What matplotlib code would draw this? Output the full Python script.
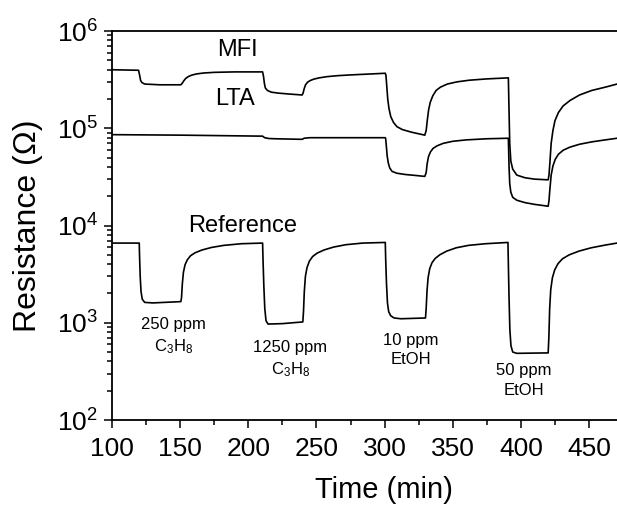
import matplotlib
matplotlib.use("Agg")
import matplotlib.pyplot as plt
from matplotlib.ticker import LogLocator, MultipleLocator, NullFormatter

plt.rcParams['font.family'] = ['Liberation Sans', 'DejaVu Sans']
plt.rcParams['mathtext.fontset'] = 'custom'
plt.rcParams['mathtext.rm'] = 'Liberation Sans'
plt.rcParams['mathtext.it'] = 'Liberation Sans'

# MFI sensor, time (min) / resistance (ohm)
mfi_t = [100, 119.5, 120.3, 121, 122, 124, 135, 150.5,
         151.5, 152.5, 154, 156, 158.5, 162, 167, 175, 190, 210.5,
         211.2, 211.8, 212.5, 214, 217, 222, 230, 239.5,
         240.2, 241, 242, 243.5, 245.5, 248, 252, 258, 266, 277, 290, 300.5,
         301, 301.6, 302.3, 303.2, 304.5, 306.5, 309, 313, 320, 329.5,
         330.5, 331.3, 332.3, 333.5, 335.3, 337.8, 341, 346, 353, 362, 375, 390.8,
         391.3, 391.8, 392.6, 394, 397, 403, 410, 420,
         420.6, 421.3, 422.2, 423.5, 425, 427.5, 431, 436, 443, 452, 462, 470.5]
mfi_r = [4.0e5, 3.95e5, 3.5e5, 3.1e5, 2.95e5, 2.85e5, 2.8e5, 2.8e5,
         2.9e5, 3.05e5, 3.25e5, 3.4e5, 3.52e5, 3.62e5, 3.7e5, 3.76e5, 3.8e5, 3.8e5,
         3.4e5, 2.9e5, 2.6e5, 2.45e5, 2.35e5, 2.3e5, 2.25e5, 2.2e5,
         2.3e5, 2.55e5, 2.8e5, 2.98e5, 3.1e5, 3.2e5, 3.3e5, 3.4e5, 3.48e5, 3.55e5, 3.62e5, 3.68e5,
         3.5e5, 2.7e5, 2.0e5, 1.6e5, 1.32e5, 1.15e5, 1.04e5, 9.7e4, 9.1e4, 8.5e4,
         9.5e4, 1.2e5, 1.55e5, 1.85e5, 2.15e5, 2.45e5, 2.65e5, 2.85e5, 3.0e5, 3.12e5, 3.22e5, 3.3e5,
         1.5e5, 7.0e4, 4.6e4, 3.8e4, 3.3e4, 3.1e4, 3.0e4, 2.95e4,
         3.3e4, 4.5e4, 7.0e4, 9.5e4, 1.2e5, 1.45e5, 1.7e5, 1.93e5, 2.2e5, 2.45e5, 2.65e5, 2.85e5]

# LTA sensor
lta_t = [100, 150, 180, 210.5, 212, 215, 220, 239.5, 241, 245, 270, 300.5,
         300.8, 301.3, 301.9, 302.7, 303.8, 305.5, 309, 315, 322, 329.5,
         330.5, 331.2, 332.2, 333.6, 335.5, 338.5, 343, 350, 360, 375, 390.8,
         391.3, 391.8, 392.6, 394, 397, 403, 410, 420,
         420.6, 421.3, 422.2, 423.5, 425.2, 427.5, 431, 436, 443, 452, 462, 470.5]
lta_r = [8.6e4, 8.5e4, 8.4e4, 8.3e4, 8.0e4, 7.85e4, 7.8e4, 7.7e4, 7.9e4, 8.0e4, 8.0e4, 8.0e4,
         7.8e4, 6.5e4, 5.2e4, 4.4e4, 3.9e4, 3.6e4, 3.45e4, 3.35e4, 3.28e4, 3.2e4,
         3.5e4, 4.3e4, 5.1e4, 5.7e4, 6.2e4, 6.6e4, 7.0e4, 7.35e4, 7.6e4, 7.8e4, 7.9e4,
         4.0e4, 2.7e4, 2.2e4, 1.95e4, 1.82e4, 1.72e4, 1.65e4, 1.58e4,
         1.8e4, 2.4e4, 3.3e4, 4.1e4, 4.8e4, 5.4e4, 5.95e4, 6.4e4, 6.85e4, 7.25e4, 7.6e4, 7.9e4]

# Reference sensor
ref_t = [100, 120, 120.2, 120.7, 121.3, 122.2, 124, 130, 150.5,
         151, 151.6, 152.4, 153.6, 155.3, 157.7, 161, 166, 173, 182, 195, 210.5,
         210.8, 211.4, 212.1, 213, 214.5, 225, 240,
         240.5, 241.1, 241.9, 243.1, 244.8, 247.2, 250.5, 255.5, 262.5, 271.5, 284, 300.5,
         300.8, 301.4, 302.1, 303, 304.5, 307, 312, 330,
         330.5, 331.1, 331.9, 333.1, 334.8, 337.2, 340.5, 345.5, 352.5, 361.5, 374, 390.5,
         390.8, 391.3, 391.9, 392.7, 394, 397, 420,
         420.5, 421.1, 421.9, 423.1, 424.8, 427.2, 430.5, 435.5, 442.5, 451.5, 462, 470.5]
ref_r = [6.6e3, 6.6e3, 5.0e3, 3.0e3, 2.1e3, 1.75e3, 1.62e3, 1.6e3, 1.65e3,
         1.8e3, 2.5e3, 3.3e3, 3.95e3, 4.45e3, 4.9e3, 5.25e3, 5.6e3, 5.95e3, 6.25e3, 6.5e3, 6.6e3,
         4.5e3, 2.4e3, 1.4e3, 1.05e3, 9.7e2, 9.8e2, 1.02e3,
         1.3e3, 2.1e3, 3.0e3, 3.7e3, 4.3e3, 4.8e3, 5.2e3, 5.6e3, 6.0e3, 6.35e3, 6.6e3, 6.7e3,
         4.5e3, 2.5e3, 1.6e3, 1.3e3, 1.18e3, 1.12e3, 1.1e3, 1.12e3,
         1.4e3, 2.1e3, 2.9e3, 3.6e3, 4.15e3, 4.6e3, 5.0e3, 5.45e3, 5.9e3, 6.25e3, 6.5e3, 6.7e3,
         4.0e3, 1.8e3, 8.5e2, 5.8e2, 5.0e2, 4.85e2, 4.9e2,
         7.0e2, 1.4e3, 2.2e3, 2.9e3, 3.5e3, 4.05e3, 4.55e3, 5.0e3, 5.45e3, 5.9e3, 6.3e3, 6.6e3]

curve_names = ["MFI", "LTA", "Reference"]
curve_label_pos = [(192, 6.4e5), (190, 2.0e5), (196, 9.9e3)]

gas_labels = ["250 ppm\nC$_3$H$_8$", "1250 ppm\nC$_3$H$_8$", "10 ppm\nEtOH", "50 ppm\nEtOH"]
gas_label_pos = [(145, 10**2.86), (231, 10**2.62), (319.5, 10**2.72), (402, 10**2.41)]

fig = plt.figure(figsize=(6.17, 5.08), dpi=100)
ax = fig.add_axes([0.1815, 0.1732, 0.8185, 0.7657])

for t, r in [(mfi_t, mfi_r), (lta_t, lta_r), (ref_t, ref_r)]:
    ax.plot(t, r, color="black", lw=1.2)

ax.set_yscale("log")
ax.set_xlim(100, 470.5)
ax.set_ylim(1e2, 1e6)

ax.xaxis.set_major_locator(MultipleLocator(50))
ax.xaxis.set_minor_locator(MultipleLocator(25))
ax.yaxis.set_major_locator(LogLocator(base=10, numticks=10))
ax.yaxis.set_minor_locator(LogLocator(base=10, subs=range(2, 10), numticks=10))
ax.yaxis.set_minor_formatter(NullFormatter())

ax.spines['right'].set_visible(False)
for s in ['left', 'bottom', 'top']:
    ax.spines[s].set_linewidth(1.3)
ax.tick_params(which='both', direction='out', labelsize=19, width=1.1)
ax.tick_params(which='major', length=6)
ax.tick_params(which='minor', length=3.5)
ax.tick_params(axis='x', pad=6)
ax.tick_params(axis='y', pad=4)

for name, (x, y) in zip(curve_names, curve_label_pos):
    ax.text(x, y, name, fontsize=17, ha='center', va='center')
for lab, (x, y) in zip(gas_labels, gas_label_pos):
    ax.text(x, y, lab, fontsize=12, ha='center', va='center', linespacing=1.4)

ax.set_xlabel("Time (min)", fontsize=21)
ax.set_ylabel("Resistance (Ω)", fontsize=23)
ax.xaxis.set_label_coords(0.539, -0.145)
ax.yaxis.set_label_coords(-0.137, 0.5)

fig.savefig("out.png", dpi=100)
